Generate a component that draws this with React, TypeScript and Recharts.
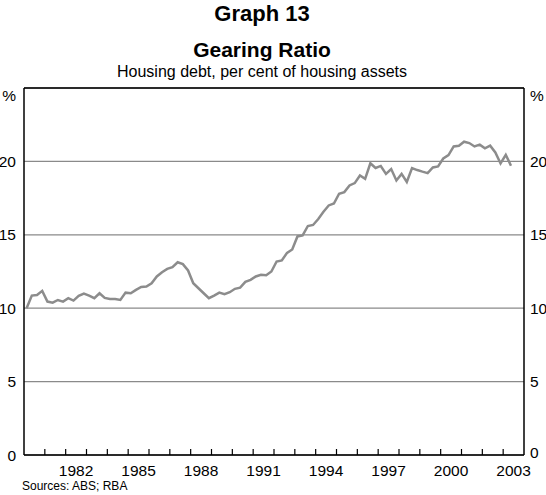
import { LineChart, Line, XAxis, YAxis, CartesianGrid, ReferenceLine } from 'recharts';

const startYear = 1980;
const endYear = 2004;

// Housing debt as a per cent of housing assets, quarterly from March 1980
const gearing = [
  10.0, 10.86, 10.9, 11.18, 10.45, 10.38, 10.56, 10.45, 10.68, 10.52,
  10.84, 11.0, 10.86, 10.68, 11.02, 10.7, 10.63, 10.63, 10.56, 11.06,
  11.02, 11.25, 11.45, 11.47, 11.7, 12.16, 12.45, 12.68, 12.8, 13.13,
  13.0, 12.57, 11.7, 11.36, 11.02, 10.68, 10.86, 11.06, 10.95, 11.09,
  11.32, 11.4, 11.79, 11.93, 12.16, 12.27, 12.25, 12.5, 13.18, 13.25,
  13.77, 14.0, 14.89, 14.96, 15.6, 15.67, 16.08, 16.57, 17.0, 17.13,
  17.8, 17.91, 18.36, 18.52, 19.04, 18.81, 19.87, 19.55, 19.69, 19.15,
  19.48, 18.7, 19.15, 18.6, 19.55, 19.41, 19.3, 19.2, 19.59, 19.66,
  20.2, 20.43, 21.02, 21.07, 21.34, 21.25, 21.02, 21.14, 20.89, 21.07,
  20.61, 19.86, 20.45, 19.7,
];

const yearTicks = [
  1981, 1982, 1983, 1984, 1985, 1986, 1987, 1988, 1989, 1990, 1991, 1992,
  1993, 1994, 1995, 1996, 1997, 1998, 1999, 2000, 2001, 2002, 2003,
];
const labelYears = [1982, 1985, 1988, 1991, 1994, 1997, 2000, 2003];
const yTicks = [0, 5, 10, 15, 20, 25];

const data = gearing.map((v, i) => ({ date: startYear + 0.125 + i * 0.25, ratio: v }));

const W = 546;
const H = 495;
const LEFT_W = 24;
const RIGHT_W = 22;
const YEAR_PX = (W - LEFT_W - RIGHT_W) / (endYear - startYear);
const FONT = "Arial, 'Liberation Sans', sans-serif";

const XTick = ({ x, y, payload }: any) => {
  const year = payload.value;
  return (
    <g>
      <line x1={x} x2={x} y1={y - 6} y2={y} stroke="#000" strokeWidth={1.2} />
      {labelYears.includes(year) && (
        <text x={x + YEAR_PX / 2} y={y + 21} textAnchor="middle" fontSize={15.5} fontFamily={FONT} fill="#000">
          {year}
        </text>
      )}
    </g>
  );
};

const LeftTick = ({ x, y, payload }: any) => {
  const v = payload.value;
  return (
    <text x={x} y={v === 25 ? y + 7 : y} dy="0.36em" textAnchor="end" fontSize={15.5} fontFamily={FONT} fill="#000">
      {v === 25 ? '%' : v}
    </text>
  );
};

const RightTick = ({ x, y, payload }: any) => {
  const v = payload.value;
  return (
    <text x={x} y={v === 25 ? y + 7 : v === 0 ? y - 3 : y} dy="0.36em" textAnchor="start" fontSize={15.5} fontFamily={FONT} fill="#000">
      {v === 25 ? '%' : v}
    </text>
  );
};

export default function App() {
  return (
    <div style={{ position: 'absolute', left: 0, top: 0, width: W, height: H, background: '#fff', fontFamily: FONT }}>
      <div style={{ position: 'absolute', left: 0, width: 524, top: 3, textAlign: 'center', fontSize: 22, lineHeight: '22px', fontWeight: 'bold' }}>
        Graph 13
      </div>
      <div style={{ position: 'absolute', left: 0, width: 524, top: 39, textAlign: 'center', fontSize: 21, lineHeight: '21px', fontWeight: 'bold' }}>
        Gearing Ratio
      </div>
      <div style={{ position: 'absolute', left: 0, width: 524, top: 64, textAlign: 'center', fontSize: 16, lineHeight: '16px' }}>
        Housing debt, per cent of housing assets
      </div>
      <div style={{ position: 'absolute', left: 22, top: 480, fontSize: 12, lineHeight: '12px' }}>Sources: ABS; RBA</div>
      <div style={{ position: 'absolute', left: 0, top: 0 }}>
        <LineChart width={W} height={H} data={data} margin={{ top: 88, right: 0, bottom: 0, left: 0 }}>
          <CartesianGrid yAxisId="left" vertical={false} stroke="#8a8a8a" strokeWidth={1.3} />
          <XAxis
            dataKey="date"
            type="number"
            domain={[startYear, endYear]}
            ticks={yearTicks}
            interval={0}
            height={40}
            tickSize={0}
            tickMargin={0}
            tickLine={false}
            tick={<XTick />}
            axisLine={{ stroke: '#000', strokeWidth: 1.5 }}
            allowDataOverflow
          />
          <YAxis
            yAxisId="left"
            orientation="left"
            type="number"
            domain={[0, 25]}
            ticks={yTicks}
            interval={0}
            width={LEFT_W}
            tickSize={0}
            tickMargin={8}
            tickLine={false}
            tick={<LeftTick />}
            axisLine={{ stroke: '#000', strokeWidth: 1.5 }}
            allowDataOverflow
          />
          <YAxis
            yAxisId="right"
            orientation="right"
            type="number"
            domain={[0, 25]}
            ticks={yTicks}
            interval={0}
            width={RIGHT_W}
            tickSize={0}
            tickMargin={6}
            tickLine={false}
            tick={<RightTick />}
            axisLine={{ stroke: '#000', strokeWidth: 1.5 }}
            allowDataOverflow
          />
          <ReferenceLine yAxisId="left" y={25} stroke="#000" strokeWidth={1.5} />
          <Line
            yAxisId="right"
            dataKey="ratio"
            stroke="none"
            dot={false}
            activeDot={false}
            legendType="none"
            isAnimationActive={false}
          />
          <Line
            yAxisId="left"
            type="linear"
            dataKey="ratio"
            stroke="#8c8c8c"
            strokeWidth={2.5}
            dot={false}
            isAnimationActive={false}
          />
        </LineChart>
      </div>
    </div>
  );
}
